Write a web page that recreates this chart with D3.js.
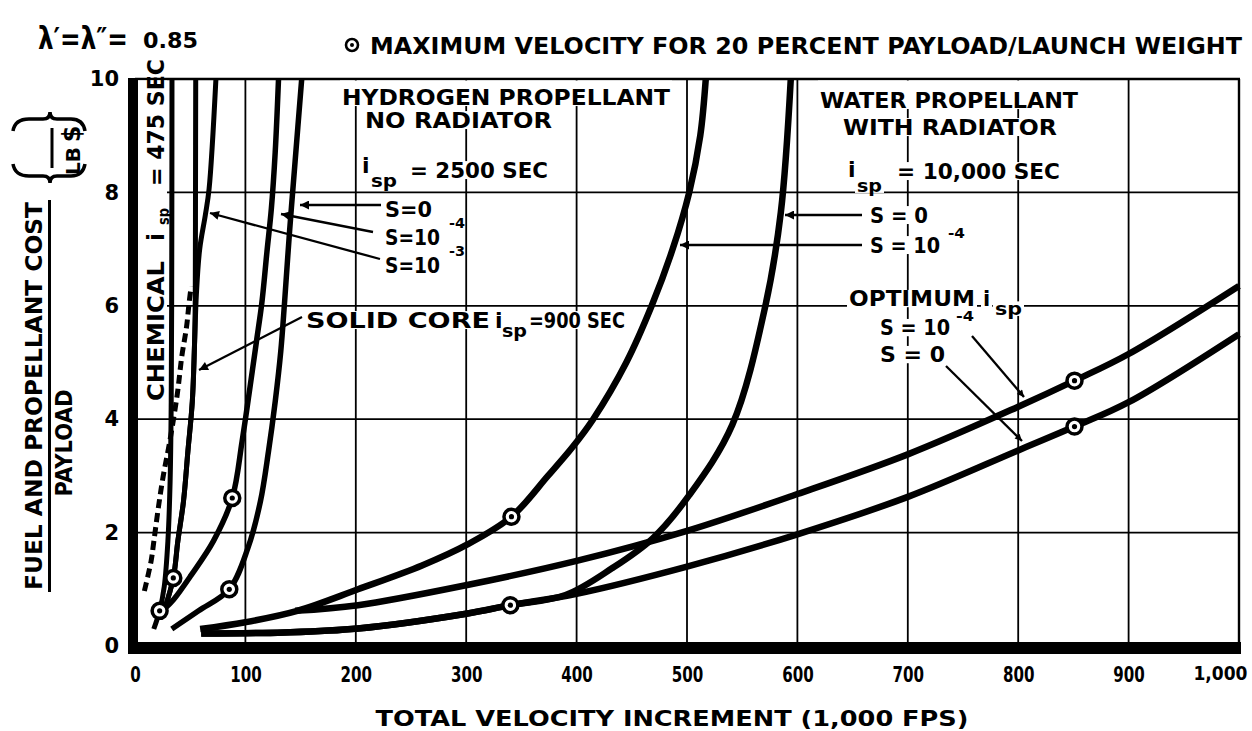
<!DOCTYPE html>
<html><head><meta charset="utf-8">
<script src="https://cdn.jsdelivr.net/npm/d3@7"></script>
<style>
html,body{margin:0;padding:0;background:#fff;}
svg text{font-family:"DejaVu Sans",sans-serif;font-weight:bold;fill:#000;}
</style></head><body>
<svg id="chart" width="1252" height="731"></svg>
<script>
// ---------- data ----------
const xTicks = [0,100,200,300,400,500,600,700,800,900,1000];
const xTickLabels = ["0","100","200","300","400","500","600","700","800","900","1,000"];
const yTicks = [0,2,4,6,8,10];
const yTickLabels = ["0","2","4","6","8","10"];

// [velocity (1,000 fps), cost ratio ($/lb)]
const chemical475 = [[17,0.3],[22.3,0.62],[26.5,1.05],[29.8,1.85],[31.8,2.9],[32.8,4.3],[33.2,6],[33.4,8],[33.5,10]];
const dashedCurve = [[8.5,0.97],[14.6,1.5],[17.1,1.85],[21.3,2.46],[25.5,2.99],[31.5,3.61],[38.3,4.44],[42.4,5.11],[46.7,5.63],[49.1,6.07],[50.9,6.34]];
const solidCore900 = [[26.8,0.65],[34.7,1.2],[38.8,1.85],[43.9,2.55],[47.9,3.43],[51.9,4.31],[54,5.37],[54.6,6.2],[54.8,8],[55,10]];
const hydrogenS3 = [[26.8,0.65],[34.7,1.2],[38.8,1.85],[43.9,2.55],[47.9,3.43],[51.9,4.31],[54,5.37],[55.6,6.2],[58.6,7.0],[63.7,7.6],[67.1,8.06],[73.3,10]];
const hydrogenS4 = [[27,0.66],[35,0.82],[50.9,1.25],[71,1.85],[88.1,2.61],[97,3.61],[104.5,4.61],[110,5.37],[115,6.07],[119.5,6.95],[123.5,7.71],[127,8.71],[130,10]];
const hydrogenS0 = [[33.3,0.3],[57.6,0.62],[85.4,1.0],[102.3,1.73],[113.6,2.55],[120.9,3.43],[127,4.31],[132,5.19],[135.5,6.07],[140,7.31],[145,8.54],[151,10]];
const waterS4 = [[59,0.3],[100,0.42],[147,0.62],[202,1.0],[260,1.42],[302,1.8],[341,2.28],[374,3.0],[396,3.5],[415,4.0],[445,5.0],[468,6.0],[487,7.0],[502,8.0],[512,9.0],[517,10]];
const waterS0 = [[60,0.22],[135,0.24],[202,0.31],[300,0.57],[340,0.72],[390,0.9],[432,1.37],[469,1.9],[502,2.66],[541,3.9],[571,6.0],[585,7.65],[594,10]];
const optimumS4 = [[145,0.62],[202,0.72],[302,1.08],[400,1.5],[500,2.03],[600,2.68],[700,3.38],[800,4.22],[851,4.68],[900,5.15],[1000,6.35]];
const optimumS0 = [[60,0.22],[135,0.24],[202,0.31],[300,0.57],[340,0.72],[400,0.92],[500,1.4],[600,1.97],[700,2.63],[800,3.45],[851,3.87],[900,4.3],[1000,5.5]];
const maxVelocityPoints = [[22.3,0.62],[34.7,1.2],[85.4,1.0],[88.1,2.61],[341,2.28],[340,0.72],[851,4.68],[851,3.87]];

// ---------- chart ----------
const svg = d3.select("#chart");
const x = d3.scaleLinear().domain([0,1000]).range([135,1239]);
const y = d3.scaleLinear().domain([0,10]).range([646,79]);

const defs = svg.append("defs");
defs.append("marker").attr("id","ah").attr("viewBox","0 0 10 10").attr("refX",10).attr("refY",5)
  .attr("markerUnits","userSpaceOnUse").attr("markerWidth",13).attr("markerHeight",9).attr("orient","auto")
  .append("path").attr("d","M0,0L10,5L0,10z").attr("fill","#000");
defs.append("marker").attr("id","ahs").attr("viewBox","0 0 10 10").attr("refX",10).attr("refY",5)
  .attr("markerUnits","userSpaceOnUse").attr("markerWidth",9).attr("markerHeight",7).attr("orient","auto")
  .append("path").attr("d","M0,0L10,5L0,10z").attr("fill","#000");

const gGrid = svg.append("g");
const gBg = svg.append("g");
const gCurves = svg.append("g");
const gArrows = svg.append("g");
const gMarks = svg.append("g");
const gText = svg.append("g");

// grid
gGrid.selectAll("line.vx").data(xTicks.filter(v=>v>0 && v<1000)).join("line")
  .attr("x1",d=>x(d)).attr("x2",d=>x(d)).attr("y1",y(0)).attr("y2",y(10))
  .attr("stroke","#000").attr("stroke-width",1.8);
gGrid.selectAll("line.hy").data(yTicks.filter(v=>v>0 && v<10)).join("line")
  .attr("x1",x(0)).attr("x2",x(1000)).attr("y1",d=>y(d)).attr("y2",d=>y(d))
  .attr("stroke","#000").attr("stroke-width",1.8);
gGrid.append("line").attr("x1",x(0)).attr("x2",x(1000)+1).attr("y1",y(10)).attr("y2",y(10)).attr("stroke","#000").attr("stroke-width",2.6);
gGrid.append("line").attr("x1",x(1000)).attr("x2",x(1000)).attr("y1",y(10)).attr("y2",y(0)).attr("stroke","#000").attr("stroke-width",2.4);

// axes (labels only)
const xAxis = d3.axisBottom(x).tickValues(xTicks).tickFormat((d,i)=>xTickLabels[i]).tickSize(0).tickPadding(21);
const gx = svg.append("g").attr("transform",`translate(0,${y(0)})`).call(xAxis);
gx.select(".domain").remove();
gx.selectAll("text").attr("font-size",21).attr("font-family","DejaVu Sans Condensed, DejaVu Sans, sans-serif")
  .each(function(d,i){ const s=xTickLabels[i]; const n=s.replace(/,/g,"").length, c=(s.match(/,/g)||[]).length;
     if(i===xTickLabels.length-1){ d3.select(this).attr("text-anchor","end").attr("x",8).attr("font-size",19)
        .attr("font-stretch","condensed"); }
     else d3.select(this).attr("textLength", n*10.5 + c*5).attr("lengthAdjust","spacingAndGlyphs"); });
const yAxis = d3.axisLeft(y).tickValues(yTicks).tickFormat((d,i)=>yTickLabels[i]).tickSize(0).tickPadding(16);
const gy = svg.append("g").attr("transform",`translate(${x(0)},0)`).call(yAxis);
gy.select(".domain").remove();
gy.selectAll("text").attr("font-size",21).attr("font-family","DejaVu Sans, sans-serif");

// heavy axis bars
svg.append("rect").attr("x",x(0)-7).attr("y",y(10)-1).attr("width",10).attr("height",y(0)-y(10)+9).attr("fill","#000");
svg.append("rect").attr("x",x(0)-7).attr("y",y(0)-4).attr("width",x(1000)-x(0)+9).attr("height",12).attr("fill","#000");

// curves
const line = d3.line().x(d=>x(d[0])).y(d=>y(d[1])).curve(d3.curveCatmullRom.alpha(0.5));
const series = [
  {data:chemical475, w:5},
  {data:dashedCurve, w:5, dash:"9,5"},
  {data:solidCore900, w:5},
  {data:hydrogenS3, w:5},
  {data:hydrogenS4, w:5.5},
  {data:hydrogenS0, w:5.5},
  {data:waterS4, w:6.5},
  {data:optimumS4, w:6.5},
  {data:waterS0, w:6.5},
  {data:optimumS0, w:6.5}
];
gCurves.selectAll("path").data(series).join("path")
  .attr("d",d=>line(d.data)).attr("fill","none").attr("stroke","#000")
  .attr("stroke-width",d=>d.w).attr("stroke-dasharray",d=>d.dash||null);

// markers
gMarks.selectAll("circle.o").data(maxVelocityPoints).join("circle")
  .attr("cx",d=>x(d[0])).attr("cy",d=>y(d[1])).attr("r",7.5)
  .attr("fill","#fff").attr("stroke","#000").attr("stroke-width",3.5);
gMarks.selectAll("circle.i").data(maxVelocityPoints).join("circle")
  .attr("cx",d=>x(d[0])).attr("cy",d=>y(d[1])).attr("r",2.6).attr("fill","#000");

// text helper
function txt(g,x0,y0,str,size,o={}){
  const t=g.append("text").attr("x",x0).attr("y",y0).attr("font-size",size).text(str);
  if(o.len) t.attr("textLength",o.len).attr("lengthAdjust","spacingAndGlyphs");
  if(o.anchor) t.attr("text-anchor",o.anchor);
  if(o.bg) t.classed("bg",true);
  if(o.top) t.classed("bgtop",true);
  return t;
}
// top-left (scaled horizontally to fit its width)
const lam = svg.append("text").attr("font-size",31).text("λ′=λ″=");
const lw = lam.node().getComputedTextLength();
lam.attr("transform",`translate(38,49) scale(${Math.min(1,90/lw)},1)`);
txt(svg,143,48,"0.85",22,{len:55});
// title
svg.append("circle").attr("cx",352).attr("cy",45).attr("r",6).attr("fill","#fff").attr("stroke","#000").attr("stroke-width",2.6);
svg.append("circle").attr("cx",352).attr("cy",45).attr("r",2).attr("fill","#000");
txt(svg,370,54,"MAXIMUM VELOCITY FOR 20 PERCENT PAYLOAD/LAUNCH WEIGHT",23,{len:872});
// y label
svg.append("text").attr("transform","translate(42,396) rotate(-90)").attr("text-anchor","middle")
  .attr("font-size",23).attr("textLength",388).attr("lengthAdjust","spacingAndGlyphs").text("FUEL AND PROPELLANT COST");
svg.append("line").attr("x1",49.5).attr("x2",49.5).attr("y1",200).attr("y2",592).attr("stroke","#000").attr("stroke-width",3);
svg.append("text").attr("transform","translate(72,443) rotate(-90)").attr("text-anchor","middle")
  .attr("font-size",23).attr("textLength",107).attr("lengthAdjust","spacingAndGlyphs").text("PAYLOAD");
// units bracket
svg.append("path").attr("d","M13,131 Q15,119 29,119 L43,119 Q50,119 50,112 Q50,119 57,119 L71,119 Q83,119 85,131")
  .attr("fill","none").attr("stroke","#000").attr("stroke-width",3.5);
svg.append("path").attr("d","M13,164 Q15,176 29,176 L43,176 Q50,176 50,183 Q50,176 57,176 L71,176 Q83,176 85,164")
  .attr("fill","none").attr("stroke","#000").attr("stroke-width",3.5);
svg.append("line").attr("x1",52).attr("x2",52).attr("y1",128).attr("y2",168).attr("stroke","#000").attr("stroke-width",3);
svg.append("text").attr("transform","translate(80,134) rotate(-90)").attr("text-anchor","middle").attr("font-size",24).text("$");
svg.append("text").attr("transform","translate(80,161) rotate(-90)").attr("text-anchor","middle").attr("font-size",20).text("LB");
// x label
txt(svg,672,726,"TOTAL VELOCITY INCREMENT (1,000 FPS)",22,{len:593,anchor:"middle"});

// CHEMICAL box + rotated text
gBg.append("rect").attr("x",138).attr("y",y(10)+1.5).attr("width",29).attr("height",406-y(10)).attr("fill","#fff");
const chem = gText.append("g").attr("transform","translate(164,401) rotate(-90)");
txt(chem,0,0,"CHEMICAL",23,{len:140});
txt(chem,160,0,"i",23);
txt(chem,176,5,"sp",15,{len:17});
txt(chem,215,0,"= 475 SEC",23,{len:127});

// hydrogen block
txt(gText,342,105,"HYDROGEN PROPELLANT",22,{len:328,bg:1,top:1});
txt(gText,365,128,"NO RADIATOR",22,{len:187,bg:1});
txt(gText,362,173,"i",22,{bg:1});
txt(gText,371,187,"sp",17,{len:26,bg:1});
txt(gText,410,178,"= 2500 SEC",22,{len:138,bg:1});
txt(gText,385,217,"S=0",22,{len:47,bg:1});
txt(gText,385,245,"S=10",22,{len:55,bg:1});
txt(gText,449,228,"-4",14,{len:16});
txt(gText,385,273,"S=10",22,{len:55,bg:1});
txt(gText,449,256,"-3",14,{len:16});
// solid core
txt(gText,306,328,"SOLID CORE",22,{len:184,bg:1});
txt(gText,495,328,"i",22,{bg:1});
txt(gText,502,337,"sp",17,{len:25,bg:1});
txt(gText,529,328,"=900 SEC",22,{len:96,bg:1});
// water block
txt(gText,820,108,"WATER PROPELLANT",22,{len:258,bg:1,top:1});
txt(gText,843,135,"WITH RADIATOR",22,{len:214,bg:1});
txt(gText,848,177,"i",22,{bg:1});
txt(gText,857,192,"sp",17,{len:25,bg:1});
txt(gText,897,179,"= 10,000 SEC",22,{len:163,bg:1});
txt(gText,870,223,"S = 0",22,{len:58,bg:1});
txt(gText,870,253,"S = 10",22,{len:70,bg:1});
txt(gText,948,238,"-4",14,{len:17});
// optimum block
txt(gText,849,306,"OPTIMUM",21,{len:126,bg:1});
txt(gText,983,306,"i",21,{bg:1});
txt(gText,995,315,"sp",17,{len:27,bg:1});
txt(gText,880,335,"S = 10",21,{len:70,bg:1});
txt(gText,956,321,"-4",14,{len:18});
txt(gText,880,362,"S = 0",21,{len:65,bg:1});

// white backgrounds behind annotation lines
gText.selectAll("text.bg").each(function(){
  const b=this.getBBox(); const s=+this.getAttribute("font-size");
  const top = this.classList.contains("bgtop") ? y(10)+1.5 : b.y+0.14*s;
  gBg.append("rect").attr("x",b.x-2).attr("y",top).attr("width",b.width+4)
    .attr("height",b.y+b.height-0.18*s-top).attr("fill","#fff");
});

// arrows
const arrows = [
  [381,205,300,205,"ah"],[373,232,281,214,"ah"],[380,259,210,213,"ah"],
  [302,317,199,370,"ah"],[862,215,785,215,"ah"],[862,245,680,245,"ah"],
  [972,336,1024,397,"ahs"],[946,366,1022,441,"ahs"]
];
gArrows.selectAll("line").data(arrows).join("line")
  .attr("x1",d=>d[0]).attr("y1",d=>d[1]).attr("x2",d=>d[2]).attr("y2",d=>d[3])
  .attr("stroke","#000").attr("stroke-width",2.3).attr("marker-end",d=>`url(#${d[4]})`);
</script>
</body></html>
